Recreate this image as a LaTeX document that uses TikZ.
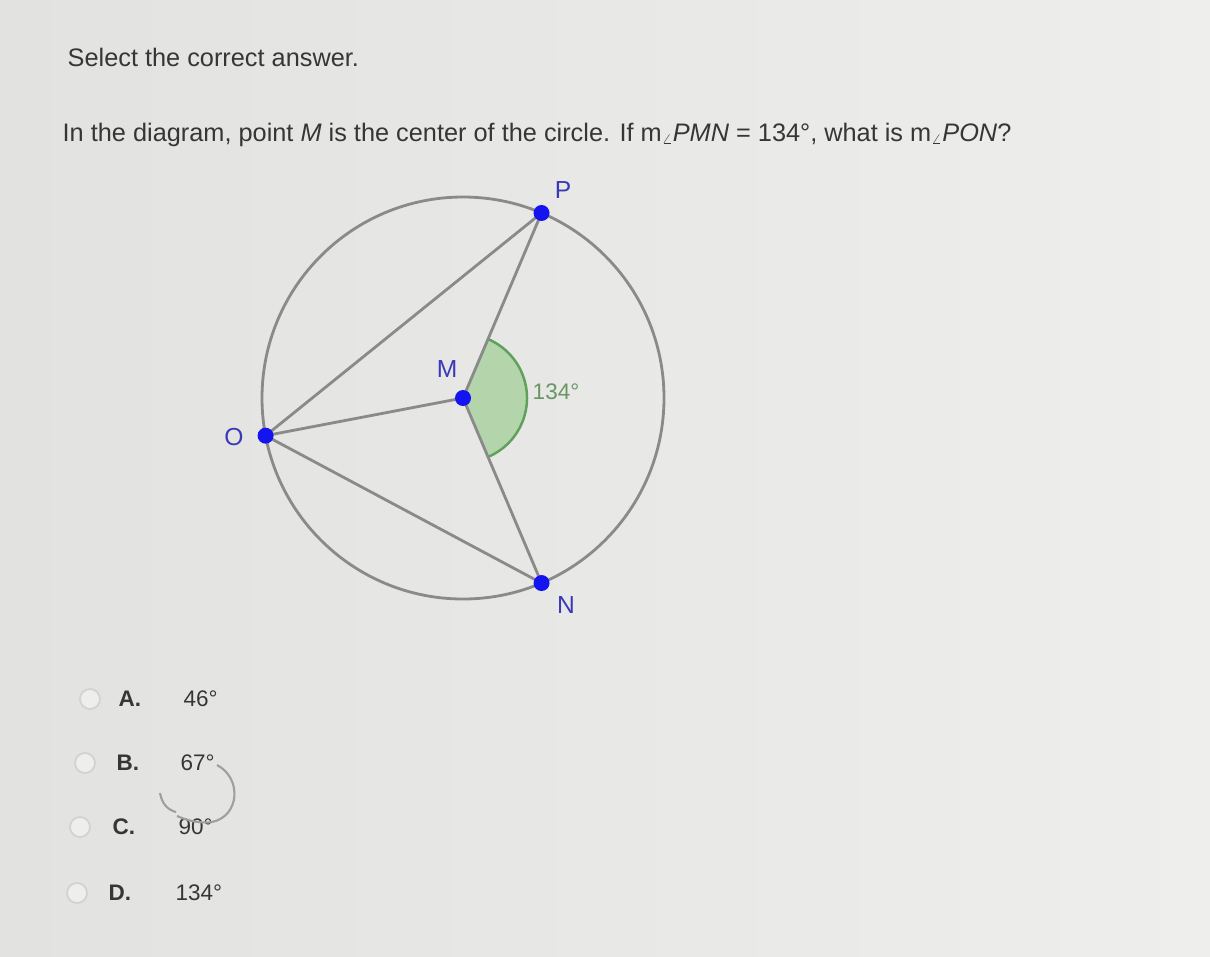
\documentclass[tikz,border=0pt]{standalone}
\usepackage{fontspec}
\setmainfont{Liberation Sans}
\usetikzlibrary{positioning}

\definecolor{paper}{HTML}{E2E2E0}
\definecolor{paperlight}{HTML}{EEEEEC}
\definecolor{ink}{HTML}{363636}
\definecolor{rim}{HTML}{8A8A8A}
\definecolor{dotblue}{HTML}{1414F0}
\definecolor{lblblue}{HTML}{3A3AB8}
\definecolor{arcgreen}{HTML}{5FA05A}
\definecolor{arcfill}{HTML}{B4D4AC}

\tikzset{
  qtext/.style={anchor=base west, inner sep=0pt, text=ink, font=\fontsize{7.2}{8.5}\selectfont},
  ptlabel/.style={inner sep=0pt, text=lblblue, font=\fontsize{7}{8}\selectfont},
  radio/.style={circle, draw=gray!35, fill=paperlight, line width=0.5pt, minimum size=0.2cm, inner sep=0pt},
  choice/.style={anchor=base west, inner sep=0pt, text=ink, font=\fontsize{6.4}{7.5}\selectfont},
}
\newcommand{\smallang}{\raisebox{-0.2ex}{\scalebox{0.55}{$\angle$}}}

\begin{document}
\begin{tikzpicture}[x=0.01cm, y=0.01cm]
  % page
  \shade[left color=paper, right color=paperlight] (0,0) rectangle (1210,956);
  \useasboundingbox (0,0) rectangle (1210,956);

  % question
  \node[qtext] (head) at (67,890) {Select the correct answer.};
  \node[qtext] (quest) at (62,815) {In the diagram, point \textit{M} is the center of the circle. If m\smallang\textit{PMN} = 134°, what is m\smallang\textit{PON}?};

  % figure
  \begin{scope}[shift={(463,558)}]
    \def\R{201}
    \coordinate (M) at (0,0);
    \coordinate (P) at (67:\R);
    \coordinate (N) at (-67:\R);
    \coordinate (O) at (190.8:\R);

    \fill[arcfill] (M) -- (-67:64) arc[start angle=-67, end angle=67, radius=64] -- cycle;
    \draw[arcgreen, line width=0.7pt] (-67:64) arc[start angle=-67, end angle=67, radius=64];

    \draw[rim, line width=0.8pt] (M) circle[radius=\R];
    \draw[rim, line width=0.8pt] (O) -- (P) (O) -- (N) (O) -- (M);
    \draw[rim, line width=0.8pt] (P) -- (M) -- (N);

    \foreach \p in {M,P,N,O}
      \fill[dotblue] (\p) circle (8);

    \node[ptlabel] (lP) at (100,208) {P};
    \node[ptlabel] (lM) at (-16,29) {M};
    \node[ptlabel] (lO) at (-229,-39) {O};
    \node[ptlabel] (lN) at (103,-207) {N};
    \node[inner sep=0pt, text=arcgreen!70!gray, font=\fontsize{6.4}{7.5}\selectfont] (lang) at (93,6) {134°};
  \end{scope}

  % answers
  \foreach \i/\xr/\xl/\xv/\yb/\lab/\val in {
      1/90/118/183/250/A./46°,
      2/85/116/180/186/B./67°,
      3/80/112/178/122/C./90°,
      4/77/108/175/56/D./134°} {
    \node[radio] (r\i) at (\xr,\yb+7) {};
    \node[choice, font=\fontsize{6.4}{7.5}\selectfont\bfseries] (k\i) at (\xl,\yb) {\lab};
    \node[choice] (v\i) at (\xv,\yb) {\val};
  }

  % pencil mark
  \draw[gray!75, line width=0.6pt] (217,191) .. controls (242,178) and (240,140) .. (212,134)
    .. controls (195,132) and (182,138) .. (177,140);
  \draw[gray!75, line width=0.6pt] (160,163) .. controls (162,152) and (168,146) .. (176,144);
\end{tikzpicture}
\end{document}
